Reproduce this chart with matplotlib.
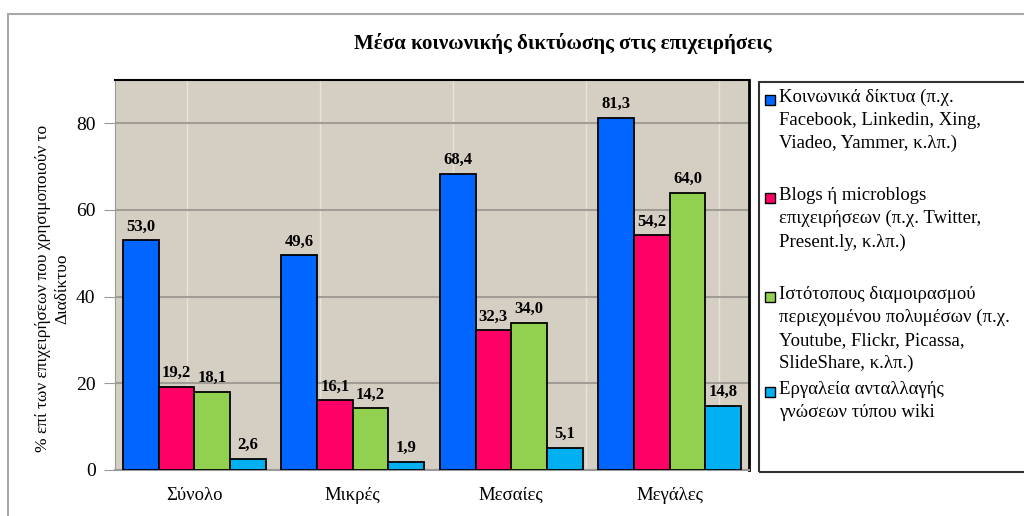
import numpy as np
import matplotlib
matplotlib.use("Agg")
from matplotlib import pyplot as plt
from matplotlib.patches import Rectangle

plt.rcParams['font.family'] = ['Liberation Serif', 'DejaVu Serif']

categories = ["Σύνολο", "Μικρές", "Μεσαίες", "Μεγάλες"]
social_networks = [53.0, 49.6, 68.4, 81.3]
blogs = [19.2, 16.1, 32.3, 54.2]
multimedia = [18.1, 14.2, 34.0, 64.0]
wiki = [2.6, 1.9, 5.1, 14.8]
series_labels = [
    "Κοινωνικά δίκτυα (π.χ.\nFacebook, Linkedin, Xing,\nViadeo, Yammer, κ.λπ.)",
    "Blogs ή microblogs\nεπιχειρήσεων (π.χ. Twitter,\nPresent.ly, κ.λπ.)",
    "Ιστότοπους διαμοιρασμού\nπεριεχομένου πολυμέσων (π.χ.\nYoutube, Flickr, Picassa,\nSlideShare, κ.λπ.)",
    "Εργαλεία ανταλλαγής\nγνώσεων τύπου wiki",
]
yticks = [0, 20, 40, 60, 80]

series = [social_networks, blogs, multimedia, wiki]
colors = ["#0066FF", "#FF0066", "#92D050", "#00B0F0"]

fig = plt.figure(figsize=(10.24, 5.16), dpi=100)
ax = fig.add_axes([115/1024, 1-470/516, (749-115)/1024, (470-80)/516])
ax.set_facecolor("#D5CFC3")

x = np.arange(len(categories))
w = 0.225
for i, (vals, c) in enumerate(zip(series, colors)):
    bars = ax.bar(x + (i - 1.5) * w, vals, w, color=c, edgecolor="black",
                  linewidth=1.3, zorder=3)
    ax.bar_label(bars, labels=[f"{v:.1f}".replace(".", ",") for v in vals],
                 padding=4, fontsize=12, fontweight="bold", zorder=4)

ax.set_xlim(-0.5, 3.5)
ax.set_ylim(0, 90)
ax.set_yticks(yticks)
ax.set_xticks(x)
ax.set_xticklabels(categories, fontsize=13.5)
ax.tick_params(axis="y", labelsize=14, length=8, color="#999999", pad=6)
ax.tick_params(axis="x", length=0, pad=12)
ax.yaxis.grid(True, color="#A09C96", linewidth=1.5, zorder=1)
# faint vertical gridlines
for gx in [-0.045, 0.795, 1.63, 2.47, 3.31]:
    ax.axvline(gx, color="#E8E4DC", linewidth=1, zorder=1)

ax.spines["left"].set_color("#999999")
ax.spines["bottom"].set_color("#999999")
ax.spines["bottom"].set_linewidth(1.5)
ax.spines["top"].set_color("black")
ax.spines["top"].set_linewidth(1.5)
ax.spines["right"].set_color("black")
ax.spines["right"].set_linewidth(2)

ax.set_ylabel("% επί των επιχειρήσεων που χρησιμοποιούν το\nΔιαδίκτυο",
              fontsize=12.5, linespacing=1.3)
ax.yaxis.set_label_coords(-0.070, 0.465)

fig.text(563/1024, 1-44/516, "Μέσα κοινωνικής δικτύωσης στις επιχειρήσεις",
         ha="center", va="center", fontsize=15, fontweight="bold")

# outer chart frame
fig.patches.append(Rectangle((8/1024, -0.05), 1.05, 1-14/516+0.05,
                             transform=fig.transFigure, fill=False,
                             edgecolor="#A8A8A8", linewidth=1.5))

# legend
fig.patches.append(Rectangle((759/1024, 1-472/516), 0.3, (472-82)/516,
                             transform=fig.transFigure, fill=False,
                             edgecolor="#333333", linewidth=1.5))
first_line = [100, 198, 297, 392]
for lab, c, yy in zip(series_labels, colors, first_line):
    fig.patches.append(Rectangle((765/1024, 1-(yy+5)/516), 10/1024, 10/516,
                                 transform=fig.transFigure, facecolor=c,
                                 edgecolor="black", linewidth=1))
    fig.text(779/1024, 1-(yy-11)/516, lab, ha="left", va="top",
             fontsize=13.5, linespacing=1.45)

fig.savefig("out.png", dpi=100)
